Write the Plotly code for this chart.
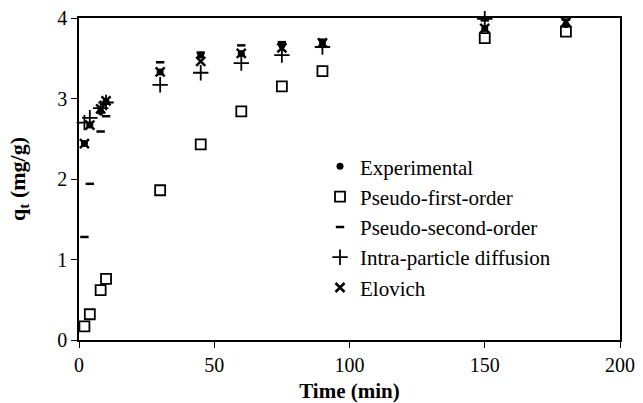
import plotly.graph_objects as go

time = [2, 4, 8, 10, 30, 45, 60, 75, 90, 150, 180]
experimental = [2.44, 2.67, 2.84, 2.96, 3.33, 3.54, 3.56, 3.66, 3.70, 3.87, 3.92]
pseudo_first = [0.17, 0.32, 0.62, 0.76, 1.86, 2.43, 2.84, 3.15, 3.34, 3.75, 3.83]
pseudo_second = [1.28, 1.94, 2.59, 2.78, 3.45, 3.57, 3.66, 3.70, 3.73, 3.97, 3.98]
intra_particle = [2.70, 2.76, 2.88, 2.95, 3.17, 3.32, 3.44, 3.54, 3.64, 3.99]
elovich = [2.44, 2.67, 2.87, 2.97, 3.33, 3.46, 3.56, 3.63, 3.69, 3.87, 3.95]

font_family = "Liberation Serif, Times New Roman, serif"

fig = go.Figure()
fig.add_trace(go.Scatter(x=time, y=pseudo_first, mode="markers", name="Pseudo-first-order",
                         marker=dict(symbol="square-open", size=10, color="black",
                                     line=dict(width=1.8, color="black")),
                         legendrank=2, cliponaxis=False))
fig.add_trace(go.Scatter(x=time, y=pseudo_second, mode="markers", name="Pseudo-second-order",
                         marker=dict(symbol="line-ew", size=6, color="black",
                                     line=dict(width=2.5, color="black")),
                         legendrank=3, cliponaxis=False))
fig.add_trace(go.Scatter(x=time[:len(intra_particle)], y=intra_particle, mode="markers",
                         name="Intra-particle diffusion",
                         marker=dict(symbol="cross-thin", size=11, color="black",
                                     line=dict(width=1.8, color="black")),
                         legendrank=4, cliponaxis=False))
fig.add_trace(go.Scatter(x=time, y=elovich, mode="markers", name="Elovich",
                         marker=dict(symbol="x-thin", size=9, color="black",
                                     line=dict(width=2.5, color="black")),
                         legendrank=5, cliponaxis=False))
fig.add_trace(go.Scatter(x=time, y=experimental, mode="markers", name="Experimental",
                         marker=dict(symbol="circle", size=7, color="black"),
                         legendrank=1, cliponaxis=False))

fig.update_layout(
    width=643, height=403,
    margin=dict(l=79, r=23, t=18, b=63, autoexpand=False),
    paper_bgcolor="white", plot_bgcolor="white",
    font=dict(family=font_family, size=20, color="black"),
    legend=dict(x=0.4455, y=0.602, xanchor="left", yanchor="top",
                bgcolor="rgba(0,0,0,0)", font=dict(size=21, family=font_family, color="black"),
                itemsizing="trace", tracegroupgap=0),
    showlegend=True,
)
fig.update_xaxes(range=[0, 200], tickvals=[0, 50, 100, 150, 200], automargin=False,
                 showgrid=False, zeroline=False, showline=True, linecolor="black", linewidth=1.5,
                 mirror=True, ticks="outside", ticklen=6, tickcolor="black",
                 tickfont=dict(size=20, family=font_family, color="black"),
                 title=dict(text="<b>Time (min)</b>",
                            font=dict(size=21, family=font_family, color="black"), standoff=10))
fig.update_yaxes(range=[0, 4], tickvals=[0, 1, 2, 3, 4], automargin=False,
                 showgrid=False, zeroline=False, showline=True, linecolor="black", linewidth=1.5,
                 mirror=True, ticks="outside", ticklen=6, tickcolor="black",
                 tickfont=dict(size=20, family=font_family, color="black"),
                 title=dict(text="<b>q<sub>t</sub> (mg/g)</b>",
                            font=dict(size=22, family=font_family, color="black"), standoff=26))

fig.write_html("out.html")
